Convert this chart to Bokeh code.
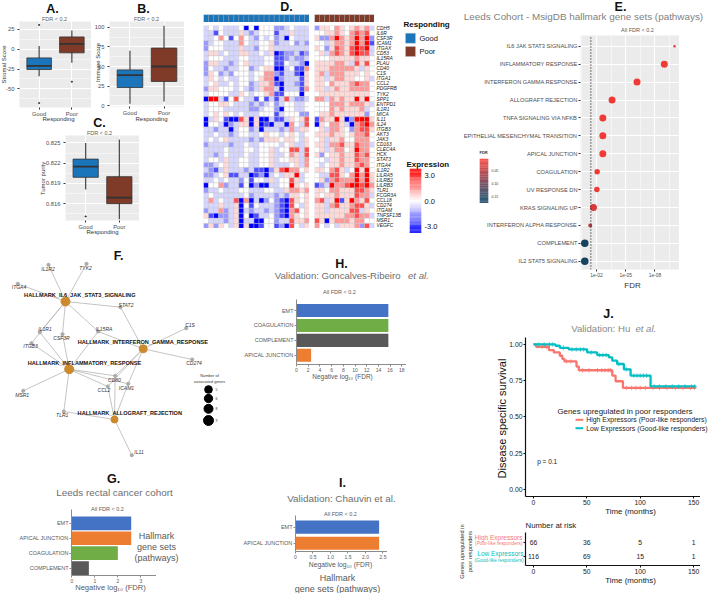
from math import pi
from bokeh.plotting import figure
from bokeh.models import (Range1d, FixedTicker, LinearColorMapper, ColumnDataSource, LinearAxis,
                          NumeralTickFormatter, FactorRange, CategoricalTicker, CategoricalAxis)
from bokeh.core.properties import value
from bokeh.transform import transform
from bokeh.embed import file_html
from bokeh.resources import INLINE

FONT = "Liberation Sans"
GOOD = "#1B75BB"
POOR = "#803A28"
GREYTXT = "#595959"

# ---------- A, B, C box plots: q1, median, q3, low whisker, high whisker, outliers
GROUPS = ["Good", "Poor"]
A_Q1 = [-25.6, -4.5]; A_MED = [-21, 6.8]; A_Q3 = [-10.9, 15.6]; A_LO = [-34, -17]; A_HI = [4, 23.6]
A_OUT = [(1, 30.8), (1, -68), (2, -41)]
B_Q1 = [23.3, 31]; B_MED = [39, 50]; B_Q3 = [45.7, 73.5]; B_LO = [2.5, 5.5]; B_HI = [70, 102]
B_OUT = []
C_Q1 = [0.8199, 0.8160]; C_MED = [0.8215, 0.8169]; C_Q3 = [0.8226, 0.8200]; C_LO = [0.8181, 0.8137]; C_HI = [0.8250, 0.8255]
C_OUT = [(1, 0.8141)]

# ---------- D heat map (cell shade levels -4..4, LEVELS gives their expression value)
LEVELS = {0: 0.0, 1: 0.6, 2: 1.5, 3: 2.6, 4: 3.8}
GENES = ["CDH5", "IL6R", "CSF3R", "ICAM1", "ITGAX", "CD53", "IL15RA", "PLAU", "CD40", "C1S", "ITGA1", "CCL2",
         "PDGFRB", "TYK2", "SPP1", "ENTPD1", "IL1R1", "MICA", "IL11", "IL24", "ITGB3", "AKT3", "JAK3", "CD163",
         "CLEC4A", "HCK", "STAT3", "ITGA4", "IL1R2", "LILRA5", "LILRB2", "LILRB3", "TLR1", "FCGR3A", "CCL18",
         "CD274", "ITGAM", "TNFSF13B", "MSR1", "VEGFC"]
HEAT_GOOD = [
 [-1,0,-1,0,-1,-1,-1,0,-4,0,-4,0,0,0,-2,-2,-1,0,-1,-1,-1],
 [-1,-1,-3,0,-1,-1,-1,1,-1,-2,-1,0,0,0,-3,-1,-1,1,-1,-1,-1],
 [-1,-1,0,2,0,-3,0,2,0,-1,-2,0,-1,0,-2,-1,-4,0,-1,-1,-1],
 [-2,-1,0,0,-1,-1,-1,2,0,-1,-1,0,0,1,-2,-1,-1,0,-2,-1,-2],
 [-2,0,0,0,-1,-1,-1,1,-1,-1,-2,0,0,1,-1,-1,-1,-1,-1,-1,-1],
 [-1,1,1,-1,0,-1,-1,1,1,-1,-1,0,-1,1,-4,-3,-2,-2,-1,-3,-2],
 [-1,0,0,0,-1,-1,-1,0,0,-1,-1,-1,0,0,-3,-3,-2,-1,-2,-2,-1],
 [-2,1,1,-1,-1,-2,-1,0,1,-1,-1,-1,0,0,-3,-3,0,-1,-1,-2,-4],
 [-2,0,-1,-1,-2,-1,-1,0,0,-2,-1,0,1,1,-4,-4,-1,0,-3,-3,2],
 [-2,1,0,-2,-1,-2,0,0,0,-1,0,0,2,2,-2,-3,-1,-1,-3,-4,1],
 [-1,1,0,-1,0,-1,-1,0,0,-1,0,1,2,2,-4,-2,-1,-1,-1,-3,1],
 [-1,0,1,-1,-1,0,-1,0,0,-2,-1,1,1,2,-3,-4,-1,-1,-2,-3,1],
 [-2,1,1,0,0,0,-1,0,-1,-2,-1,1,2,2,-1,-4,-1,-1,-1,-3,2],
 [-1,0,0,0,0,-1,-1,1,0,-1,0,0,1,2,-3,-3,0,0,0,-4,0],
 [-4,4,4,-1,-3,0,3,0,-1,-1,-3,0,-3,-1,-3,-1,3,-1,-2,-2,-1],
 [-1,0,0,1,1,0,-1,-1,-1,-2,-1,-2,-1,0,-2,-1,0,0,-1,-1,0],
 [-1,0,0,0,-1,-1,-1,-1,-1,-2,-2,-1,0,0,-2,-4,0,0,-1,-1,0],
 [-1,0,1,0,1,0,-1,0,-1,-1,-1,0,0,0,-3,-1,0,0,0,-2,-2],
 [-4,-1,1,0,-3,-4,-4,3,1,-4,1,-4,-4,-1,-3,-3,-1,1,0,1,3],
 [-4,0,0,-1,-4,-2,-1,1,1,-4,1,-4,-3,-4,-1,-1,-4,2,0,-1,3],
 [-1,-1,-2,-1,-1,-4,-1,0,0,-2,-1,-4,-1,-1,-1,-2,-1,2,-1,1,1],
 [-1,-1,0,-1,-1,-2,-1,0,0,-1,-1,0,1,0,0,-1,0,1,0,-1,0],
 [-1,0,-1,0,1,-1,-1,-1,-1,-2,-1,-2,1,1,1,0,1,1,0,-1,1],
 [-2,-1,-1,-1,-1,-2,-1,-1,0,-1,-1,0,0,0,0,-1,0,1,-1,-1,1],
 [-1,-1,-1,-1,0,-1,-1,-1,0,0,-1,0,0,1,-1,0,0,3,3,-1,3],
 [-1,-1,-2,-1,0,-1,-1,-1,0,-1,-1,0,0,1,-1,-1,0,2,1,-1,3],
 [-1,0,0,-1,1,-1,-1,0,0,-1,-1,0,0,1,-1,0,0,1,1,-1,2],
 [-2,-2,-1,0,1,-1,-1,0,0,-1,-1,0,0,1,-1,-1,-1,0,1,-1,2],
 [-1,-2,-3,-1,1,-1,-1,-1,-2,-1,-3,-3,-4,-2,1,3,4,2,2,0,1],
 [-2,-2,-1,0,1,-3,-3,-1,-1,-4,-3,-2,-4,-1,0,-1,1,1,4,-1,0],
 [-1,-1,0,-1,0,-1,-1,-2,0,-3,0,0,-1,1,-1,0,0,3,1,-1,0],
 [-4,0,0,2,-2,-1,-1,-3,0,-4,-2,-4,-4,-1,-1,0,0,4,1,0,1],
 [-2,-1,-1,0,-1,-1,-1,0,0,-1,-1,-1,0,0,-1,-1,1,2,2,1,2],
 [-1,0,-1,-1,-1,-1,-1,-1,0,-2,-1,-1,-1,-1,-2,-1,-2,1,1,0,1],
 [-1,2,-1,0,-1,-1,3,-4,2,-4,-1,-4,-2,0,-2,-3,-4,3,1,0,1],
 [-1,-1,-1,1,-1,-1,1,-4,0,-3,0,-1,-1,-1,-2,-3,-4,3,0,-1,1],
 [-2,-1,-1,2,-2,-1,1,-4,-1,-2,-1,-1,-2,-1,-2,-3,-4,2,3,0,1],
 [1,-3,-4,-2,-2,-1,1,-4,0,-4,-3,-1,-1,0,-2,-3,-4,2,1,0,1],
 [0,-1,-1,-1,-2,-1,1,-4,-1,-1,-4,-4,0,0,-2,-1,-1,3,1,1,2],
 [-2,1,-2,1,0,-1,1,-4,1,-4,-4,-3,0,0,-3,-2,-4,3,0,-1,1],
]
HEAT_POOR = [
 [-2,1,1,0,2,1,0,1,2,1,2,-1],
 [0,0,1,1,2,1,0,2,3,2,3,0],
 [1,-2,-2,2,4,2,1,2,4,2,4,-2],
 [0,0,-1,1,2,2,1,2,4,2,4,-3],
 [1,0,-2,1,3,2,1,3,4,3,4,-1],
 [0,1,-1,2,3,2,1,3,4,3,3,-1],
 [0,0,0,1,1,1,1,1,2,1,1,0],
 [1,1,1,1,2,2,1,-1,3,1,3,0],
 [1,1,1,2,2,2,2,2,1,-1,1,0],
 [1,2,-1,2,2,2,1,1,1,0,1,0],
 [1,1,-1,1,2,2,1,1,0,0,1,-1],
 [1,1,0,2,1,1,1,2,3,2,2,0],
 [1,1,-1,1,2,1,1,2,2,2,2,0],
 [0,1,1,1,1,1,1,1,1,1,1,0],
 [2,2,-1,2,1,2,1,1,4,1,4,0],
 [0,0,0,2,2,2,1,2,2,2,1,-1],
 [0,0,0,2,1,2,1,1,1,2,-1,0],
 [0,1,1,2,1,1,1,1,1,1,-2,0],
 [-3,2,1,1,4,1,-4,-2,4,4,4,1],
 [-4,1,0,2,2,1,-1,-4,2,3,4,2],
 [0,1,-1,2,2,1,0,-2,2,3,3,1],
 [1,1,1,2,1,1,0,1,2,2,3,0],
 [0,1,-1,1,1,2,0,0,2,2,2,0],
 [1,1,-1,2,2,3,1,1,3,2,2,-1],
 [0,1,-1,1,2,2,0,1,4,2,2,0],
 [1,-2,0,1,1,2,1,1,3,2,3,0],
 [0,0,-1,1,1,2,1,1,3,2,2,0],
 [0,-1,0,1,1,2,1,1,2,3,2,0],
 [1,1,0,2,3,1,-1,0,4,1,4,0],
 [0,-1,-1,3,3,1,0,2,4,2,4,1],
 [0,1,-2,2,3,2,2,2,4,2,4,1],
 [-3,-2,-1,4,2,2,3,4,4,3,4,2],
 [1,1,0,2,2,1,1,1,3,3,2,1],
 [1,0,1,1,2,1,1,1,3,2,2,-1],
 [2,3,-1,1,4,-3,1,4,2,1,3,0],
 [1,1,-1,2,3,1,1,2,3,3,1,-1],
 [1,1,-1,1,1,1,1,3,3,-1,1,0],
 [1,1,1,1,1,1,2,2,3,2,2,-1],
 [3,1,-4,1,2,2,2,1,2,2,0,0],
 [2,0,-1,0,-1,1,1,1,2,-2,3,-1],
]

# ---------- E dot plot: -log10(FDR)
E_SETS = ["IL6 JAK STAT3 SIGNALING", "INFLAMMATORY RESPONSE", "INTERFERON GAMMA RESPONSE", "ALLOGRAFT REJECTION",
          "TNFA SIGNALING VIA NFKB", "EPITHELIAL MESENCHYMAL TRANSITION", "APICAL JUNCTION", "COAGULATION",
          "UV RESPONSE DN", "KRAS SIGNALING UP", "INTERFERON ALPHA RESPONSE", "COMPLEMENT", "IL2 STAT5 SIGNALING"]
E_NEGLOG = [10.01, 8.96, 6.16, 3.6, 2.65, 2.65, 2.65, 2.07, 2.04, 1.69, 1.36, 0.8, 0.8]
E_COUNT = [2.5, 7, 7, 7, 7, 7, 7, 5.5, 5.5, 7, 4, 7.5, 7.5]
E_FDR = [0.0001, 0.0002, 0.0003, 0.0005, 0.002, 0.002, 0.002, 0.008, 0.009, 0.021, 0.044, 0.165, 0.165]

# ---------- F network
HUBS = {"HALLMARK_IL6_JAK_STAT3_SIGNALING": (65, 301, 9),
        "HALLMARK_INFLAMMATORY_RESPONSE": (68.7, 368.7, 9),
        "HALLMARK_INTERFERON_GAMMA_RESPONSE": (142.7, 348.3, 8),
        "HALLMARK_ALLOGRAFT_REJECTION": (114, 419, 7)}
HUB_LABEL_AT = {"HALLMARK_IL6_JAK_STAT3_SIGNALING": (79.3, 294.3),
                "HALLMARK_INFLAMMATORY_RESPONSE": (84, 362.3),
                "HALLMARK_INTERFERON_GAMMA_RESPONSE": (142.3, 341),
                "HALLMARK_ALLOGRAFT_REJECTION": (129.3, 412.3)}
NODES = {"IL1R2": (48, 264.3, 47.5, 268), "TYK2": (86, 263.3, 85, 267.5), "ITGA4": (17.3, 283.3, 18.5, 286.5),
         "STAT2": (120, 306.7, 125.5, 304), "IL1R1": (39.3, 331.7, 44.5, 328.5), "CSF3R": (62, 333.7, 61, 337),
         "IL15RA": (97.7, 331, 103.5, 328), "ITGB3": (31, 342.7, 30, 345.7), "C1S": (185.7, 327.7, 189.5, 324.7),
         "CD274": (191.7, 359, 193.5, 362.7), "CD80": (114.7, 375.3, 114, 379.3), "CCL2": (107.3, 386, 103.5, 389.7),
         "ICAM1": (127.7, 383.3, 126, 387.3), "MSR1": (22.7, 390.3, 21.7, 394.3), "TLR1": (63.3, 411, 61.7, 414.3),
         "IL11": (131.3, 454.7, 138.5, 451)}
EDGES = {"HALLMARK_IL6_JAK_STAT3_SIGNALING": ["IL1R2", "TYK2", "ITGA4", "STAT2", "IL1R1", "CSF3R", "IL15RA", "ITGB3"],
         "HALLMARK_INFLAMMATORY_RESPONSE": ["IL1R1", "ITGB3", "CSF3R", "IL15RA", "MSR1", "TLR1", "CD80", "CCL2", "ICAM1"],
         "HALLMARK_INTERFERON_GAMMA_RESPONSE": ["STAT2", "IL15RA", "C1S", "CD274", "CD80", "CCL2", "ICAM1"],
         "HALLMARK_ALLOGRAFT_REJECTION": ["CD80", "CCL2", "ICAM1", "TLR1", "IL11"]}
NET_LEG_SIZE = [7.7, 8.3, 9, 10]
NET_LEG_Y = [389, 398, 408.3, 420]
NET_LEG_TXT = ["5", "6", "8", "9"]

# ---------- G, H, I bars
G_SETS = ["EMT", "APICAL JUNCTION", "COAGULATION", "COMPLEMENT"]
G_VALS = [2.58, 2.58, 2.0, 0.74]
H_SETS = ["EMT", "COAGULATION", "COMPLEMENT", "APICAL JUNCTION"]
H_VALS = [15.7, 15.7, 15.7, 2.5]
I_SETS = ["EMT", "APICAL JUNCTION"]
I_VALS = [2.39, 2.39]
SET_COL = {"EMT": "#4472C4", "APICAL JUNCTION": "#ED7D31", "COAGULATION": "#70AD47", "COMPLEMENT": "#595959"}

# ---------- J survival
HIGH_T = [0, 2.5, 14.4, 19, 24.7, 27, 29, 40.3, 42.5, 73.8, 76.9, 83.8, 152]
HIGH_S = [1.0, 0.984, 0.961, 0.945, 0.922, 0.90, 0.883, 0.847, 0.822, 0.785, 0.746, 0.70, 0.70]
LOW_T = [0, 20.6, 24.7, 33, 50.3, 59.7, 70.6, 73.8, 78.4, 84.7, 91, 109.7, 152]
LOW_S = [1.0, 0.991, 0.977, 0.966, 0.945, 0.927, 0.911, 0.888, 0.865, 0.828, 0.785, 0.71, 0.71]
HIGH_CENS_T = [8, 12, 31, 35, 46, 52, 60, 64, 67, 70, 72, 87, 92, 96, 100, 105, 112, 118, 125, 133, 140, 147, 151]
HIGH_CENS_S = [0.984, 0.984, 0.883, 0.883, 0.822, 0.822, 0.822, 0.822, 0.822, 0.822, 0.822, 0.70, 0.70, 0.70, 0.70, 0.70, 0.70, 0.70, 0.70, 0.70, 0.70, 0.70, 0.70]
LOW_CENS_T = [5, 10, 15, 18, 28, 36, 40, 44, 47, 54, 62, 65, 68, 80, 87, 94, 97, 100, 103, 106, 113, 118, 124, 130, 136, 142, 148, 151]
LOW_CENS_S = [1.0, 1.0, 1.0, 1.0, 0.977, 0.966, 0.966, 0.966, 0.966, 0.945, 0.927, 0.927, 0.927, 0.865, 0.828, 0.785, 0.785, 0.785, 0.785, 0.785, 0.71, 0.71, 0.71, 0.71, 0.71, 0.71, 0.71, 0.71]
RISK_T = [0, 50, 100, 150]
RISK_HIGH = [66, 36, 5, 1]
RISK_LOW = [116, 69, 15, 1]

figs = []


def panel(x0, y0, x1, y1, xr, yr, l=0, r=0, t=0, b=0, bg="#EBEBEB"):
    """Figure whose plot frame occupies page rectangle x0..x1, y0..y1."""
    w = int(round(x1 - x0)); h = int(round(y1 - y0))
    p = figure(width=w + l + r, height=h + t + b, x_range=xr, y_range=yr, toolbar_location=None,
               output_backend="svg", min_border_left=l, min_border_right=r, min_border_top=t,
               min_border_bottom=b, background_fill_color=bg, border_fill_color=None, outline_line_color=None)
    p.styles = {"position": "absolute", "left": f"{x0 - l}px", "top": f"{y0 - t}px"}
    p.grid.grid_line_color = None
    p.xaxis.visible = False
    p.yaxis.visible = False
    figs.append(p)
    return p


def style_axis(ax, size="5.8px", color="#4D4D4D", tick="#333333", line=None, lw=1):
    ax.visible = True
    ax.major_label_text_font = FONT
    ax.major_label_text_font_size = size
    ax.major_label_text_color = color
    ax.major_tick_line_color = tick
    ax.major_tick_in = 0
    ax.major_tick_out = 2
    ax.minor_tick_line_color = None
    ax.axis_line_color = line
    ax.axis_line_width = lw
    ax.major_label_standoff = 1


def box_panel(x0, y0, x1, y1, yr, ticks, minor, q1, med, q3, lo, hi, out, fmt=None):
    p = panel(x0, y0, x1, y1, Range1d(0.4, 2.6), Range1d(*yr), l=30, b=14)
    xa = p.xaxis[0]; ya = p.yaxis[0]
    style_axis(xa); style_axis(ya)
    xa.ticker = FixedTicker(ticks=[1, 2]); xa.major_label_overrides = {1: GROUPS[0], 2: GROUPS[1]}
    ya.ticker = FixedTicker(ticks=ticks, minor_ticks=minor)
    ya.minor_tick_line_color = None
    if fmt:
        ya.formatter = NumeralTickFormatter(format=fmt)
    else:
        ya.major_label_overrides = {t: str(t) for t in ticks if t < 0}
    p.xgrid.ticker = FixedTicker(ticks=[1, 2]); p.ygrid.ticker = FixedTicker(ticks=ticks, minor_ticks=minor)
    p.xgrid.grid_line_color = "white"; p.ygrid.grid_line_color = "white"
    p.ygrid.minor_grid_line_color = "white"; p.ygrid.minor_grid_line_width = 0.5
    xs = [1, 2]
    p.segment(xs, lo, xs, hi, line_color="#333333", line_width=1.1)
    p.vbar(x=xs, width=0.75, bottom=q1, top=q3, fill_color=[GOOD, POOR], line_color="#333333", line_width=0.8)
    p.segment([v - 0.375 for v in xs], med, [v + 0.375 for v in xs], med, line_color="#333333", line_width=1.8)
    if out:
        p.scatter([o[0] for o in out], [o[1] for o in out], size=1.2, color="#333333")
    return p


box_panel(19, 21, 91, 107, (-73.6, 35.1), [-50, -25, 0, 25], [-62.5, -37.5, -12.5, 12.5], A_Q1, A_MED, A_Q3, A_LO, A_HI, A_OUT)
box_panel(109, 21, 184, 106, (-0.9, 107.3), [0, 25, 50, 75, 100], [12.5, 37.5, 62.5, 87.5], B_Q1, B_MED, B_Q3, B_LO, B_HI, B_OUT)
box_panel(64.5, 135, 138.5, 220, (0.8135, 0.8261), [0.816, 0.819, 0.822, 0.825], [0.8145, 0.8175, 0.8205, 0.8235], C_Q1, C_MED, C_Q3, C_LO, C_HI, C_OUT, fmt="0.000")

# ---------- D
heat_map = LinearColorMapper(palette=["#%02X%02X%02X" % (c, c, 255) for c in range(0, 255, 3)] + ["#FFFFFF"] +
                             ["#FF%02X%02X" % (c, c) for c in range(252, -1, -3)], low=-3.8, high=3.8)


def heat(x0, x1, rows, show_genes):
    ncol = len(rows[0])
    p = panel(x0, 25, x1, 228, Range1d(0.5, ncol + 0.5), FactorRange(factors=GENES[::-1], range_padding=0), r=40 if show_genes else 0, bg=None)
    xs, ys, zs = [], [], []
    for g, row in zip(GENES, rows):
        for i, v in enumerate(row):
            xs.append(i + 1); ys.append(g); zs.append(LEVELS[abs(v)] * (1 if v > 0 else -1))
    src = ColumnDataSource(dict(x=xs, y=ys, z=zs))
    p.rect("x", "y", 1, 1, source=src, fill_color=transform("z", heat_map), line_color="#C4C4C4", line_width=0.4)
    if show_genes:
        ra = CategoricalAxis(ticker=CategoricalTicker())
        p.add_layout(ra, "right")
        style_axis(ra, size="4.9px", color="#222222")
        ra.major_tick_line_color = None
        ra.major_tick_out = 0
        ra.major_label_text_font_style = "italic"
        ra.major_label_standoff = 2
    return p


heat(203, 309, HEAT_GOOD, False)
heat(314, 374, HEAT_POOR, True)
for x0, x1, n, col in [(203, 309, len(HEAT_GOOD[0]), GOOD), (314, 374, len(HEAT_POOR[0]), POOR)]:
    p = panel(x0, 12, x1, 22, Range1d(0.5, n + 0.5), Range1d(0, 1), bg=None)
    p.rect(list(range(1, n + 1)), 0.5, 1, 1, fill_color=col, line_color="#8F9AA3", line_width=0.4)


def grad_bar(x0, y0, x1, y1, yr, mapper, ticks, labels, size, color, right):
    """Vertical legend gradient with its own axis of ticks."""
    p = panel(x0, y0, x1, y1, Range1d(0, 1), Range1d(*yr), r=right, bg=None)
    lo, hi = yr
    n = 70
    vals = [lo + (hi - lo) * (i + 0.5) / n for i in range(n)]
    p.rect(x="x", y="v", width=1, height=abs(hi - lo) / n * 1.15, fill_color=transform("v", mapper), line_color=None,
           source=ColumnDataSource(dict(x=[0.5] * n, v=vals)))
    ax = LinearAxis(ticker=FixedTicker(ticks=ticks), major_label_overrides=dict(zip(ticks, labels)))
    p.add_layout(ax, "right")
    style_axis(ax, size=size, color=color, tick=None)
    ax.major_tick_out = 0
    ax.major_label_standoff = 3
    return p


grad_bar(408.7, 168, 420.7, 233, (-3.8, 3.8), heat_map, [-3, 0, 3], ["-3.0", "0.0", "3.0"], "7.5px", "#111111", 22)

# ---------- E
pe = panel(580, 35, 679, 269, Range1d(0.36, 10.52), Range1d(0.54, 13.6), l=170, b=14)
pe_y = list(range(len(E_SETS), 0, -1))
xa = pe.xaxis[0]; ya = pe.yaxis[0]
style_axis(xa, size="4.9px"); style_axis(ya, size="5.7px")
xa.ticker = FixedTicker(ticks=[2, 5, 8]); xa.major_label_overrides = {2: "1e-02", 5: "1e-05", 8: "1e-08"}
ya.ticker = FixedTicker(ticks=pe_y); ya.major_label_overrides = dict(zip(pe_y, E_SETS))
pe.xgrid.ticker = FixedTicker(ticks=[2, 5, 8], minor_ticks=[0.5, 3.5, 6.5, 9.5])
pe.ygrid.ticker = FixedTicker(ticks=pe_y)
pe.xgrid.grid_line_color = "white"; pe.ygrid.grid_line_color = "white"
pe.xgrid.minor_grid_line_color = "white"; pe.xgrid.minor_grid_line_width = 0.5
fdr_map = LinearColorMapper(palette=["#EF3B36", "#D73A39", "#BC373C", "#9D353F", "#7F3445", "#60384C", "#463C53", "#2E3F58", "#14425F"], low=0.0, high=0.165)
pe.scatter(x="x", y="y", size="s", source=ColumnDataSource(dict(x=E_NEGLOG, y=pe_y, s=E_COUNT, f=E_FDR)),
           fill_color=transform("f", fdr_map), line_color=None)
pe.line([1.42, 1.42], [0.54, 13.6], line_color="#333333", line_dash="1 2", line_width=1.3)
grad_bar(479, 158, 488, 203, (0.177, 0.002), fdr_map, [0.05, 0.10, 0.15], ["0.05", "0.10", "0.15"], "3.5px", "#333333", 16)

# ---------- F
pf = panel(0, 245, 232, 462, Range1d(0, 232), Range1d(462, 245), bg=None)
ex0, ey0, ex1, ey1 = [], [], [], []
for hub, genes in EDGES.items():
    hx, hy, _ = HUBS[hub]
    for g in genes:
        ex0.append(hx); ey0.append(hy); ex1.append(NODES[g][0]); ey1.append(NODES[g][1])
pf.segment(ex0, ey0, ex1, ey1, line_color="#BDBDBD", line_width=0.9)
names = list(NODES)
pf.scatter([NODES[n][0] for n in names], [NODES[n][1] for n in names], size=3.2, color="#ABABAB")
pf.scatter([v[0] for v in HUBS.values()], [v[1] for v in HUBS.values()], size=[v[2] for v in HUBS.values()], color="#CC8A2C")
pf.text([NODES[n][2] for n in names], [NODES[n][3] for n in names], text=names, text_font=value(FONT),
        text_font_size=value("5px"), text_font_style="italic", text_color="#333333", text_align="center", text_baseline="middle")
hn = list(HUB_LABEL_AT)
pf.text([HUB_LABEL_AT[n][0] for n in hn], [HUB_LABEL_AT[n][1] for n in hn], text=hn, text_font=value(FONT),
        text_font_size=value("5.6px"), text_font_style="bold", text_color="#111111", text_align="center", text_baseline="middle")
pf.scatter([208] * 4, NET_LEG_Y, size=NET_LEG_SIZE, color="black")
pf.text([215] * 4, NET_LEG_Y, text=NET_LEG_TXT, text_font=value(FONT), text_font_size=value("3.5px"), text_color="#333333", text_baseline="middle")


# ---------- G H I
def bars(x0, y0, x1, y1, xr, yr, sets, vals, ticks, height, labels=None):
    p = panel(x0, y0, x1, y1, Range1d(*xr), Range1d(*yr), l=70, b=10, bg=None)
    ys = list(range(len(sets), 0, -1))
    xa = p.xaxis[0]; ya = p.yaxis[0]
    style_axis(xa, size="5px", color=GREYTXT, tick="#8C8C8C", line="#8C8C8C", lw=1)
    style_axis(ya, size="5.5px", color=GREYTXT, tick="#8C8C8C", line="#8C8C8C", lw=1)
    xa.ticker = FixedTicker(ticks=ticks)
    if labels:
        xa.major_label_overrides = labels
    ya.ticker = FixedTicker(ticks=ys); ya.major_label_overrides = dict(zip(ys, sets))
    p.hbar(y=ys, left=0, right=vals, height=height, fill_color=[SET_COL[s] for s in sets], line_color=None)
    return p


bars(71, 509, 156, 575, (-0.015, 3.68), (0.5, 4.93), G_SETS, G_VALS, [0, 1, 2, 3], 0.92)
bars(296, 299, 406, 364, (0, 18.8), (0.384, 4.74), H_SETS, H_VALS, list(range(0, 19, 2)), 0.88)
bars(295, 515, 387, 551, (0, 2.63), (0.49, 2.72), I_SETS, I_VALS, [0, 0.5, 1, 1.5, 2, 2.5], 0.81,
     labels={0: "0", 0.5: "0.5", 1: "1.0", 1.5: "1.5", 2: "2.0", 2.5: "2.5"})

# ---------- J
pj = panel(525, 337, 700, 497, Range1d(-7.5, 156.5), Range1d(-0.0495, 1.048), l=30, b=10, bg=None)
xa = pj.xaxis[0]; ya = pj.yaxis[0]
style_axis(xa, size="6.8px", color="#222222", tick="#111111", line="#111111", lw=1.2)
style_axis(ya, size="6.8px", color="#222222", tick="#111111", line="#111111", lw=1.2)
xa.ticker = FixedTicker(ticks=RISK_T)
ya.ticker = FixedTicker(ticks=[0, 0.25, 0.5, 0.75, 1.0]); ya.formatter = NumeralTickFormatter(format="0.00")
pj.step(HIGH_T, HIGH_S, mode="after", line_color="#F8766D", line_width=2.3)
pj.step(LOW_T, LOW_S, mode="after", line_color="#00BFC4", line_width=2.3)
pj.scatter(HIGH_CENS_T, HIGH_CENS_S, marker="cross", size=4.5, line_color="#F8766D", line_width=0.7)
pj.scatter(LOW_CENS_T, LOW_CENS_S, marker="cross", size=4.5, line_color="#00BFC4", line_width=0.7)

pr = panel(525, 532, 700, 566, Range1d(-7.5, 156.5), Range1d(2.61, 0.34), l=10, b=10, bg=None)
xa = pr.xaxis[0]; ya = pr.yaxis[0]
style_axis(xa, size="6.8px", color="#222222", tick="#111111", line="#111111", lw=1.2)
style_axis(ya, size="1px", color="#FFFFFF", tick="#111111", line="#111111", lw=1.2)
xa.ticker = FixedTicker(ticks=RISK_T)
ya.ticker = FixedTicker(ticks=[1, 2]); ya.major_label_overrides = {1: "", 2: ""}
for row, vals in [(1, RISK_HIGH), (2, RISK_LOW)]:
    pr.text(RISK_T, [row] * 4, text=[str(v) for v in vals], text_font=value(FONT), text_font_size=value("6.8px"),
            text_color="#222222", text_align="center", text_baseline="middle")

# ---------- page-level captions, legends and axis titles (page pixel coordinates)
ov = figure(width=708, height=593, x_range=Range1d(0, 708), y_range=Range1d(593, 0), toolbar_location=None,
            output_backend="svg", min_border=0, background_fill_color=None, border_fill_color=None, outline_line_color=None)
ov.axis.visible = False
ov.grid.grid_line_color = None
ov.styles = {"position": "absolute", "left": "0px", "top": "0px"}


def T(x, y, s, size, color="#333333", style="normal", align="center", angle=0):
    ov.text([x], [y], text=[s], text_font=value(FONT), text_font_size=value(f"{size}px"), text_color=color,
            text_font_style=style, text_align=align, text_baseline="middle", angle=angle)


for x, y, s in [(52, 8, "A."), (143, 8, "B."), (99, 122, "C."), (286, 6, "D."), (620, 6, "E."), (118, 255, "F."),
                (113, 478, "G."), (341, 263, "H."), (342, 482, "I."), (608, 313, "J.")]:
    T(x, y, s, 12.5, "#111111", "bold")
for x, y in [(54, 18.5), (146, 18.5), (99, 132), (637, 29), (107, 508), (339, 291), (340, 513)]:
    txt = "FDR < 0.2" if y < 25 or y == 132 else "All FDR < 0.2"
    T(x, y, txt, 5.5, GREYTXT)
# A, B, C axis titles
T(3.5, 64, "Stromal Score", 6, "#333333", angle=pi / 2)
T(97, 62, "Immune Score", 6, "#333333", angle=pi / 2)
T(42.5, 178, "Tumor purity", 6, "#333333", angle=pi / 2)
T(58, 118, "Responding", 6); T(151, 118, "Responding", 6); T(102, 231, "Responding", 6)
# D legends
T(403, 24, "Responding", 8, "#111111", "bold", "left")
ov.rect([410, 410], [37.7, 51], 10, 10, fill_color=[GOOD, POOR], line_color="#C4C4C4", line_width=0.4)
T(419, 37.7, GROUPS[0], 7.5, "#111111", align="left"); T(419, 51, GROUPS[1], 7.5, "#111111", align="left")
T(406, 164, "Expression", 7.9, "#111111", "bold", "left")
# E titles
T(583, 16, "Leeds Cohort - MsigDB hallmark gene sets (pathways)", 9.9, "#7F7F7F")
T(632, 285, "FDR", 8, "#333333")
T(479, 152, "FDR", 4, "#333333", "bold", "left")
# F legend title
T(209, 375, "Number of", 4, "#333333"); T(209, 381, "associated genes", 4, "#333333")
# G
T(114, 492, "Leeds rectal cancer cohort", 9.9, "#6E6E6E")
T(110, 587, "Negative log\u2081\u2080 (FDR)", 7.6, GREYTXT)
T(156, 535, "Hallmark", 9, "#595959"); T(156, 546, "gene sets", 9, "#595959"); T(156, 557, "(pathways)", 9, "#595959")
# H
T(274.3, 275, "Validation: Goncalves-Ribeiro ", 9.6, "#6E6E6E", align="left"); T(428.3, 275, "et al.", 9.6, "#6E6E6E", "italic", "right")
T(342, 376, "Negative log\u2081\u2080 (FDR)", 6.5, GREYTXT)
# I
T(341, 498, "Validation: Chauvin et al.", 9.9, "#6E6E6E")
T(340, 564, "Negative log\u2081\u2080 (FDR)", 6.8, GREYTXT)
T(337, 577, "Hallmark", 9, "#595959"); T(337, 588, "gene sets (pathways)", 9, "#595959")
# J
T(570.7, 328, "Validation: Hu ", 9.6, "#8A8A8A", align="left"); T(655.7, 328, "et al.", 9.6, "#8A8A8A", "italic", "right")
T(501.5, 418, "Disease specific survival", 11, "#111111", angle=pi / 2)
T(630, 510.5, "Time (months)", 7.9, "#222222")
T(624.5, 410.5, "Genes upregulated in poor responders", 7.9, "#222222")
ov.line([575, 582.7], [419.3, 419.3], line_color="#F8766D", line_width=2)
ov.line([575, 582.7], [427.7, 427.7], line_color="#00BFC4", line_width=2)
T(585.7, 419.3, "High Expressors (Poor-like responders)", 6.9, "#222222", align="left")
T(585.7, 427.7, "Low Expressors (Good-like responders)", 6.9, "#222222", align="left")
T(546.7, 460.7, "p = 0.1", 6.5, "#222222")
T(525, 524.5, "Number at risk", 7.8, "#222222", align="left")
T(522, 536.7, "High Expressors", 6.5, "#F8766D", align="right"); T(522, 543, "(Poor-like responders)", 4.8, "#F8766D", align="right")
T(523, 553, "Low Expressors", 6.5, "#00BFC4", align="right"); T(523, 559.7, "(Good-like responders)", 4.8, "#00BFC4", align="right")
T(461.7, 551, "Genes upregulated in", 5.7, "#333333", angle=pi / 2); T(469.3, 551, "poor responders", 5.7, "#333333", angle=pi / 2)
T(630, 579.5, "Time (months)", 7.9, "#222222")

open("out.html", "w").write(file_html([ov] + figs, INLINE))
